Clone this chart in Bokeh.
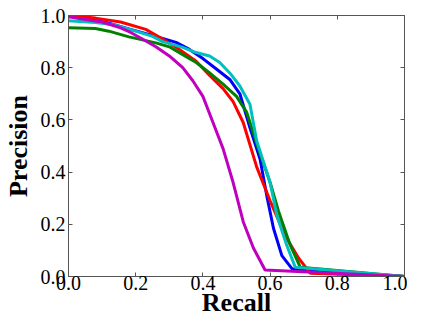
from bokeh.plotting import figure
from bokeh.models import Range1d, LinearAxis, FixedTicker
from bokeh.embed import file_html
from bokeh.resources import INLINE

ticks = [0.0, 0.2, 0.4, 0.6, 0.8, 1.0]
tick_labels = ["0.0", "0.2", "0.4", "0.6", "0.8", "1.0"]

blue_r = [0, 0.06, 0.115, 0.185, 0.26, 0.32, 0.36, 0.4, 0.44, 0.48, 0.51, 0.54, 0.57, 0.59, 0.61, 0.635, 0.665, 1.0]
blue_p = [1.0, 0.985, 0.972, 0.947, 0.92, 0.897, 0.87, 0.835, 0.795, 0.755, 0.70, 0.57, 0.45, 0.31, 0.185, 0.08, 0.03, 0.0]

green_r = [0, 0.08, 0.12, 0.18, 0.26, 0.3, 0.34, 0.38, 0.42, 0.46, 0.5, 0.53, 0.56, 0.6, 0.625, 0.66, 0.69, 1.0]
green_p = [0.953, 0.95, 0.94, 0.918, 0.895, 0.88, 0.85, 0.82, 0.78, 0.737, 0.69, 0.63, 0.51, 0.36, 0.25, 0.12, 0.035, 0.0]

red_r = [0, 0.08, 0.155, 0.23, 0.28, 0.33, 0.38, 0.42, 0.46, 0.49, 0.52, 0.56, 0.6, 0.645, 0.685, 0.72, 1.0]
red_p = [1.0, 0.99, 0.975, 0.947, 0.91, 0.87, 0.825, 0.77, 0.72, 0.67, 0.59, 0.42, 0.29, 0.156, 0.07, 0.012, 0.0]

cyan_r = [0, 0.08, 0.135, 0.2, 0.25, 0.28, 0.34, 0.38, 0.42, 0.45, 0.48, 0.51, 0.54, 0.56, 0.6, 0.62, 0.65, 0.675, 1.0]
cyan_p = [0.98, 0.973, 0.965, 0.94, 0.92, 0.90, 0.878, 0.858, 0.845, 0.82, 0.78, 0.73, 0.66, 0.52, 0.36, 0.235, 0.118, 0.035, 0.0]

mag_r = [0, 0.05, 0.1, 0.15, 0.185, 0.22, 0.26, 0.3, 0.34, 0.37, 0.4, 0.43, 0.46, 0.49, 0.52, 0.55, 0.585, 1.0]
mag_p = [0.995, 0.985, 0.975, 0.955, 0.935, 0.91, 0.88, 0.845, 0.80, 0.75, 0.69, 0.59, 0.49, 0.36, 0.21, 0.11, 0.025, 0.0]

series = [
    (blue_r, blue_p, "#0000ff"),
    (red_r, red_p, "#ff0000"),
    (green_r, green_p, "#008000"),
    (cyan_r, cyan_p, "#00bfbf"),
    (mag_r, mag_p, "#bf00bf"),
]

FONT = "Liberation Serif"
FRAME = "#555555"

p = figure(width=407, height=319,
           x_range=Range1d(0, 1), y_range=Range1d(0, 1),
           output_backend="svg", toolbar_location=None,
           min_border_left=64, min_border_top=15,
           min_border_right=3, min_border_bottom=42)
p.xgrid.visible = False
p.ygrid.visible = False
p.outline_line_color = FRAME
p.outline_line_width = 1

for r, pr, c in series:
    p.line(r, pr, line_color=c, line_width=3)

overrides = {t: s for t, s in zip(ticks, tick_labels)}

for axes in (p.xaxis, p.yaxis):
    axes.ticker = FixedTicker(ticks=ticks)
    axes.major_label_overrides = overrides
    axes.major_tick_in = 4
    axes.major_tick_out = 0
    axes.minor_tick_in = 0
    axes.minor_tick_out = 0
    axes.axis_line_color = FRAME
    axes.major_tick_line_color = FRAME
    axes.major_label_text_font_size = "20px"
    axes.major_label_text_color = "black"
    axes.axis_label_text_font = FONT
    axes.axis_label_text_font_size = "26px"
    axes.axis_label_text_font_style = "bold"
    axes.axis_label_text_color = "black"

p.xaxis.major_label_text_font = FONT
p.yaxis.major_label_text_font = FONT
p.xaxis.axis_label = "Recall"
p.yaxis.axis_label = "Precision"
p.xaxis.major_label_standoff = -1
p.yaxis.major_label_standoff = 3
p.xaxis.axis_label_standoff = -5
p.yaxis.axis_label_standoff = 5

empty = {t: "" for t in ticks}
for loc in ("above", "right"):
    ax = LinearAxis(ticker=FixedTicker(ticks=ticks))
    ax.major_tick_in = 4
    ax.major_tick_out = 0
    ax.minor_tick_in = 0
    ax.minor_tick_out = 0
    ax.axis_line_color = FRAME
    ax.major_tick_line_color = FRAME
    ax.major_label_overrides = empty
    ax.major_label_text_font_size = "1px"
    ax.major_label_standoff = 0
    p.add_layout(ax, loc)

open("out.html", "w").write(file_html(p, INLINE))
